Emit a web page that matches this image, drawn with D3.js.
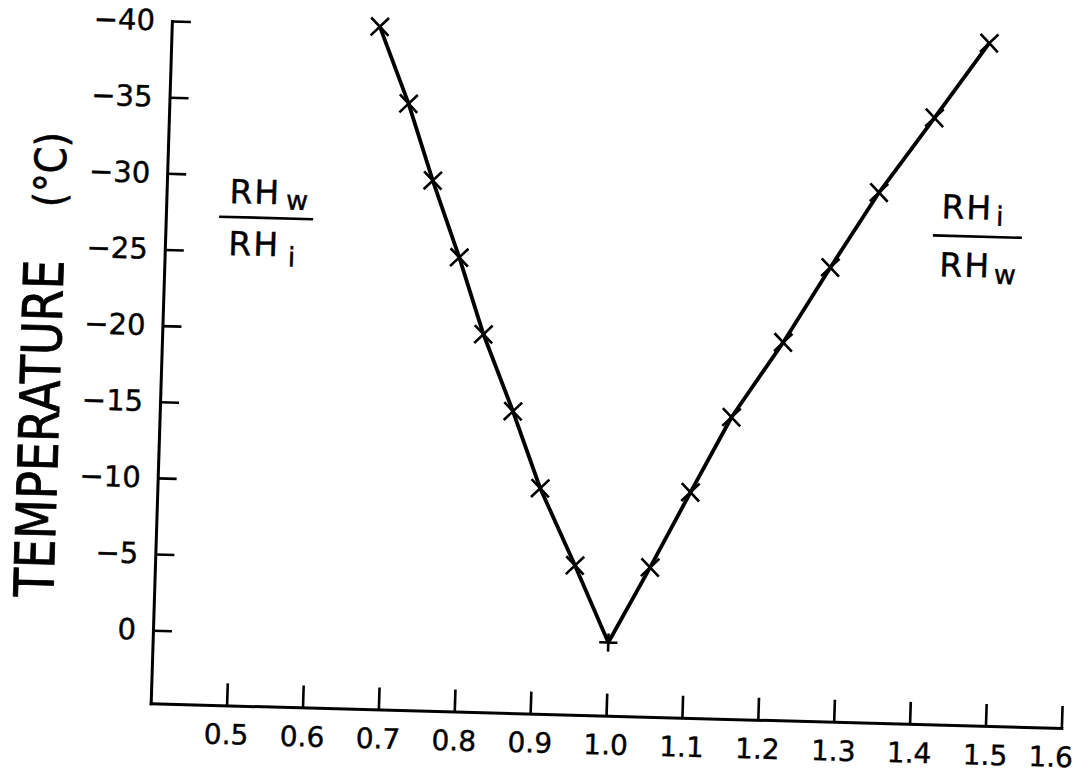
<!DOCTYPE html>
<html>
<head>
<meta charset="utf-8">
<script src="https://cdn.jsdelivr.net/npm/d3@7"></script>
<style>
  html, body { margin: 0; background: #fff; }
  svg { display: block; }
</style>
</head>
<body>
<svg id="chart" width="1087" height="775"></svg>
<script>
// Temperature steps (°C) shared by both branches
const temperatures = [0, -5, -10, -15, -20, -25, -30, -35, -40];
// Left branch: RH_w / RH_i
const ratioWaterIce = [1.000, 0.953, 0.904, 0.865, 0.823, 0.788, 0.750, 0.715, 0.674];
// Right branch: RH_i / RH_w
const ratioIceWater = [1.000, 1.052, 1.102, 1.153, 1.218, 1.277, 1.338, 1.408, 1.477];

const xTicks = [0.5, 0.6, 0.7, 0.8, 0.9, 1.0, 1.1, 1.2, 1.3, 1.4, 1.5, 1.6];
const xTickLabels = ["0.5", "0.6", "0.7", "0.8", "0.9", "1.0", "1.1", "1.2", "1.3", "1.4", "1.5", "1.6"];
const yTicks = [0, -5, -10, -15, -20, -25, -30, -35, -40];
const yTickLabels = ["0", "\u22125", "\u221210", "\u221215", "\u221220", "\u221225", "\u221230", "\u221235", "\u221240"];

const FONT = "DejaVu Sans";
const svg = d3.select("#chart");
svg.append("rect").attr("width", 1087).attr("height", 775).attr("fill", "#fff");

const corner = [150.7, 703.3];
const x = d3.scaleLinear().domain([0.4, 1.6]).range([corner[0], 1061.7]);
const y = d3.scaleLinear().domain([4.8, -40]).range([corner[1], 20.7]);

// The printed sheet sits slightly turned on the page
const a = 1.55 * Math.PI / 180, b = 1.78 * Math.PI / 180;
const root = svg.append("g").attr("transform",
  `translate(${corner[0]},${corner[1]}) matrix(${Math.cos(a)},${Math.sin(a)},${-Math.sin(b)},${Math.cos(b)},0,0) translate(${-corner[0]},${-corner[1]})`);

// Axes
const xAxis = d3.axisBottom(x)
  .tickValues(xTicks)
  .tickFormat((d, i) => xTickLabels[i])
  .tickSizeInner(-22).tickSizeOuter(0).tickPadding(19);
const gx = root.append("g").attr("transform", `translate(0,${corner[1]})`).call(xAxis);

const yAxis = d3.axisLeft(y)
  .tickValues(yTicks)
  .tickFormat((d, i) => yTickLabels[i])
  .tickSizeInner(-19).tickSizeOuter(0).tickPadding(17);
const gy = root.append("g").attr("transform", `translate(${corner[0]},0)`).call(yAxis);

[gx, gy].forEach(g => {
  g.attr("font-family", null).attr("font-size", null);
  g.select(".domain").attr("stroke", "#000").attr("stroke-width", 3).attr("stroke-linecap", "square");
  g.selectAll(".tick line").attr("stroke", "#000").attr("stroke-width", 2.6);
  g.selectAll(".tick text")
    .attr("fill", "#000").attr("font-family", FONT)
    .attr("stroke", "#000").attr("stroke-width", 0.4);
});
gx.selectAll(".tick text").attr("font-size", 28);
gy.selectAll(".tick text").attr("font-size", 29);

// Keep the last horizontal label inside the sheet's right edge
gx.selectAll(".tick text")
  .filter((d, i, n) => i === n.length - 1)
  .attr("text-anchor", "end")
  .attr("x", 12);

// Curves
const leftBranch = temperatures.map((t, i) => ({ r: ratioWaterIce[i], t }));
const rightBranch = temperatures.map((t, i) => ({ r: ratioIceWater[i], t }));
const line = d3.line().x(d => x(d.r)).y(d => y(d.t));

root.selectAll("path.curve")
  .data([leftBranch, rightBranch])
  .join("path")
  .attr("class", "curve")
  .attr("d", line)
  .attr("fill", "none")
  .attr("stroke", "#000")
  .attr("stroke-width", 3.8)
  .attr("stroke-linejoin", "round");

// Point markers: crosses, with an upright cross at the shared vertex
const points = leftBranch.concat(rightBranch.slice(1));
const timesSym = d3.symbol(d3.symbolTimes, 210);
const plusSym = d3.symbol(d3.symbolPlus, 110);
root.selectAll("path.mark")
  .data(points)
  .join("path")
  .attr("class", "mark")
  .attr("transform", d => `translate(${x(d.r)},${y(d.t)})`)
  .attr("d", d => d.t === 0 ? plusSym() : timesSym())
  .attr("fill", "none")
  .attr("stroke", "#000")
  .attr("stroke-width", 2.6);

// Vertical axis title
root.append("text")
  .attr("transform", "translate(50,600) rotate(-90)")
  .attr("font-family", FONT).attr("font-size", 55)
  .attr("textLength", 337).attr("lengthAdjust", "spacingAndGlyphs")
  .attr("fill", "#000").attr("stroke", "#000").attr("stroke-width", 0.8)
  .text("TEMPERATURE");
root.append("text")
  .attr("transform", "translate(49,210) rotate(-90)")
  .attr("font-family", FONT).attr("font-size", 43)
  .attr("textLength", 75).attr("lengthAdjust", "spacingAndGlyphs")
  .attr("fill", "#000").attr("stroke", "#000").attr("stroke-width", 0.6)
  .text("(°C)");

// Ratio labels drawn as stacked fractions
function ratioTerm(x0, base, sub, subDx, subDy) {
  const t = root.append("text")
    .attr("x", x0).attr("y", base)
    .attr("font-family", FONT).attr("fill", "#000")
    .attr("stroke", "#000").attr("stroke-width", 0.4);
  t.append("tspan").attr("font-size", 33).attr("letter-spacing", 2).text("RH");
  t.append("tspan").attr("font-size", 27).attr("dx", subDx).attr("dy", subDy).text(sub);
}
function fractionBar(x0, x1, yb) {
  root.append("line")
    .attr("x1", x0).attr("x2", x1).attr("y1", yb).attr("y2", yb)
    .attr("stroke", "#000").attr("stroke-width", 2.6);
}

ratioTerm(213.6, 201, "w", 5, 5);
fractionBar(204, 298, 215);
ratioTerm(214, 253, "i", 8, 10);

ratioTerm(925.7, 197, "i", 3, 6);
fractionBar(918, 1007, 214.4);
ratioTerm(925.4, 255, "w", 3, 6);
</script>
</body>
</html>
